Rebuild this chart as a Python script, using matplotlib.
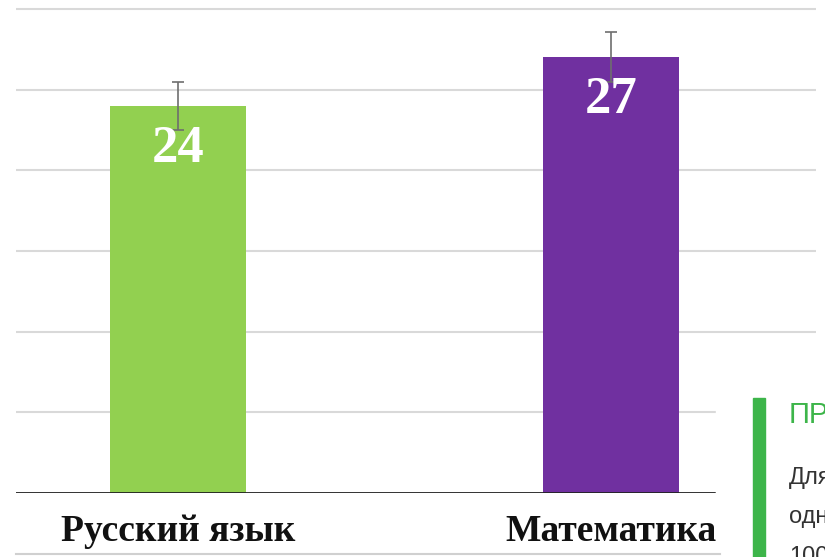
import matplotlib.pyplot as plt
from matplotlib.patches import Rectangle
from matplotlib.lines import Line2D

subjects = ["Русский язык", "Математика"]
scores = [24, 27]
errors = [1.5, 1.55]
bar_colors = ["#92d050", "#7030a0"]
side_lines = ["ПРИМЕЧАНИЕ", "Для", "одного", "100"]

W, H = 825, 557
fig = plt.figure(figsize=(W / 100, H / 100), dpi=100)
ax = fig.add_axes([16 / W, (H - 493) / H, (816 - 16) / W, (493 - 4.1) / H])

x = range(len(subjects))
ax.bar(x, scores, width=0.314, color=bar_colors, zorder=2)
ax.errorbar(x, scores, yerr=errors, fmt="none", ecolor="#6e6e6e",
            elinewidth=1.2, capsize=4.5, capthick=1.2, zorder=3)

for xi, v in zip(x, scores):
    ax.text(xi, v - 2.65, str(v), ha="center", va="center", color="white",
            fontsize=38, fontweight="bold", family="Liberation Serif", zorder=4)
    ax.annotate(subjects[xi], xy=(xi, 0), xytext=(0, -28), textcoords="offset points",
                ha="center", va="center", fontsize=27, fontweight="bold",
                family="Liberation Serif", color="#111111")

ax.set_xlim(-0.374, 1.473)
ax.set_ylim(0, 30.3)
ax.set_yticks([5, 10, 15, 20, 25, 30])
ax.yaxis.grid(True, color="#d9d9d9", linewidth=1.5, zorder=0)
ax.set_axisbelow(True)
ax.tick_params(left=False, bottom=False, labelleft=False, labelbottom=False)
for s in ax.spines.values():
    s.set_visible(False)
ax.axhline(0, xmin=0, xmax=(715 - 16) / 800, color="#222222", linewidth=1.3, zorder=5)

# side panel on the right (cut off in the source screenshot)
fig.patches.append(Rectangle((716 / W, 0), (W - 716) / W, (H - 396) / H,
                             transform=fig.transFigure, color="white", zorder=10))
fig.patches.append(Rectangle((753 / W, 0), 12 / W, (H - 398) / H,
                             transform=fig.transFigure, color="#3db54a", zorder=11))
fig.lines.append(Line2D([16 / W, 720 / W], [(H - 554) / H] * 2, transform=fig.transFigure,
                        color="#d0d0d0", linewidth=1.5, zorder=11))
fig.text(789 / W, (H - 415) / H, side_lines[0], color="#3db54a", fontsize=21,
         family="Liberation Sans", va="center", ha="left", zorder=12)
for txt, yy in zip(side_lines[1:], [478, 517, 557]):
    fig.text(789 / W, (H - yy) / H, txt, color="#333333", fontsize=17,
             family="Liberation Sans", va="center", ha="left", zorder=12)

fig.savefig("out.png", dpi=100)
